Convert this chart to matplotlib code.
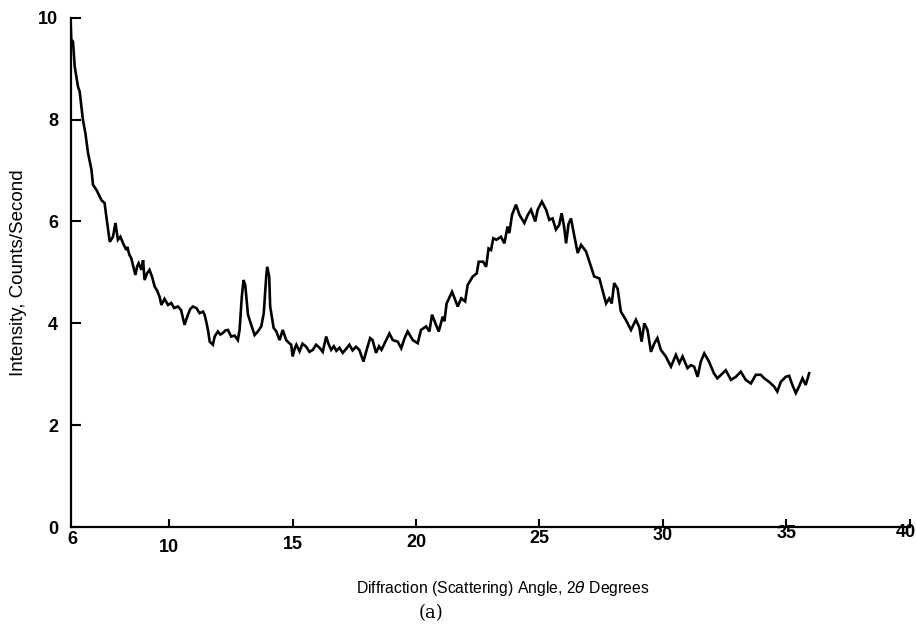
import matplotlib
matplotlib.use('Agg')
import matplotlib.pyplot as plt
from matplotlib.transforms import offset_copy

# diffraction trace (2theta in degrees, counts/second)
angle = [6.0, 6.03, 6.1, 6.17, 6.3, 6.37, 6.5, 6.6, 6.71, 6.85, 6.91, 7.05, 7.25, 7.38, 7.45,
         7.59, 7.72, 7.82, 7.92, 8.02, 8.13, 8.26, 8.3, 8.38, 8.46, 8.55, 8.63, 8.7, 8.76, 8.87,
         8.94, 9.0, 9.1, 9.2, 9.3, 9.41, 9.5, 9.61, 9.68, 9.81, 9.95, 10.08, 10.2, 10.35, 10.48,
         10.62, 10.75, 10.85, 10.96, 11.1, 11.23, 11.37, 11.43, 11.5, 11.57, 11.64, 11.77, 11.84,
         11.97, 12.07, 12.17, 12.28, 12.38, 12.51, 12.65, 12.78, 12.85, 12.94, 13.01, 13.08,
         13.19, 13.32, 13.46, 13.59, 13.73, 13.83, 13.93, 13.97, 14.05, 14.09, 14.23, 14.34,
         14.47, 14.6, 14.74, 14.84, 14.94, 15.0, 15.08, 15.15, 15.28, 15.4, 15.55, 15.68, 15.82,
         15.95, 16.09, 16.22, 16.36, 16.45, 16.56, 16.67, 16.77, 16.9, 17.03, 17.17, 17.3, 17.43,
         17.57, 17.7, 17.87, 18.0, 18.14, 18.24, 18.38, 18.5, 18.6, 18.79, 18.92, 19.06, 19.26,
         19.4, 19.53, 19.66, 19.87, 20.07, 20.2, 20.41, 20.54, 20.65, 20.81, 20.92, 21.08, 21.15,
         21.24, 21.46, 21.69, 21.83, 21.99, 22.09, 22.3, 22.46, 22.54, 22.72, 22.84, 22.94, 23.04,
         23.13, 23.26, 23.44, 23.58, 23.71, 23.78, 23.89, 24.05, 24.19, 24.39, 24.53, 24.66,
         24.83, 24.93, 25.1, 25.27, 25.4, 25.53, 25.67, 25.8, 25.9, 26.0, 26.08, 26.18, 26.28,
         26.4, 26.55, 26.69, 26.89, 27.09, 27.22, 27.43, 27.63, 27.7, 27.83, 27.93, 28.03, 28.17,
         28.3, 28.5, 28.71, 28.91, 29.05, 29.14, 29.25, 29.38, 29.52, 29.65, 29.78, 29.92, 30.12,
         30.33, 30.53, 30.67, 30.8, 31.0, 31.14, 31.27, 31.41, 31.54, 31.68, 31.87, 32.07, 32.21,
         32.34, 32.55, 32.76, 32.96, 33.16, 33.36, 33.57, 33.77, 33.97, 34.11, 34.31, 34.51,
         34.64, 34.78, 34.98, 35.12, 35.25, 35.39, 35.52, 35.66, 35.79, 35.93]
counts = [9.96, 9.57, 9.53, 9.04, 8.65, 8.55, 8.0, 7.74, 7.34, 7.01, 6.72, 6.62, 6.42, 6.36, 6.1,
          5.6, 5.7, 5.97, 5.64, 5.7, 5.57, 5.44, 5.5, 5.35, 5.28, 5.1, 4.95, 5.12, 5.18, 5.05,
          5.24, 4.85, 4.98, 5.05, 4.92, 4.72, 4.65, 4.52, 4.36, 4.48, 4.36, 4.4, 4.3, 4.33, 4.26,
          3.97, 4.16, 4.28, 4.33, 4.3, 4.2, 4.23, 4.17, 4.03, 3.87, 3.64, 3.58, 3.74,
          3.84, 3.78, 3.81, 3.86, 3.87, 3.74, 3.76, 3.67, 3.87, 4.52, 4.85, 4.75,
          4.17, 3.97, 3.77, 3.84, 3.94, 4.2, 4.92, 5.11, 4.92, 4.33, 3.91, 3.84,
          3.67, 3.87, 3.67, 3.62, 3.58, 3.35, 3.5, 3.58, 3.45, 3.6, 3.54, 3.44, 3.48,
          3.58, 3.52, 3.44, 3.74, 3.6, 3.48, 3.55, 3.46, 3.52, 3.42, 3.5, 3.58, 3.47,
          3.54, 3.48, 3.25, 3.48, 3.71, 3.67, 3.42, 3.55, 3.48, 3.67, 3.8, 3.67, 3.64,
          3.51, 3.7, 3.84, 3.67, 3.61, 3.87, 3.94, 3.84, 4.17, 3.97, 3.84, 4.13, 4.04,
          4.39, 4.62, 4.33, 4.49, 4.43, 4.75, 4.92, 4.98, 5.21, 5.21, 5.11, 5.47, 5.44,
          5.67, 5.64, 5.7, 5.57, 5.9, 5.77, 6.13, 6.33, 6.13, 5.97, 6.13, 6.23,
          6.0, 6.23, 6.39, 6.23, 6.03, 6.06, 5.84, 5.93, 6.16, 5.9, 5.57, 5.95, 6.06,
          5.75, 5.38, 5.54, 5.41, 5.11, 4.92, 4.88, 4.52, 4.39, 4.49, 4.39, 4.79, 4.68,
          4.23, 4.07, 3.87, 4.07, 3.92, 3.64, 4.0, 3.87, 3.44, 3.6, 3.71, 3.48, 3.35,
          3.15, 3.38, 3.22, 3.35, 3.12, 3.18, 3.15, 2.95, 3.25, 3.41, 3.25, 3.02, 2.92,
          2.98, 3.08, 2.89, 2.95, 3.05, 2.89, 2.82, 2.99, 2.99, 2.92, 2.85, 2.76,
          2.66, 2.85, 2.95, 2.97, 2.79, 2.63, 2.76, 2.92, 2.79, 3.02]

x_ticks = [6, 10, 15, 20, 25, 30, 35, 40]
x_tick_drop = [0.025, 0.041, 0.035, 0.031, 0.022, 0.016, 0.012, 0.010]  # skewed scan
x_tick_shift = [2, 0, 0, 0, 0, 0, 0, -4]
y_ticks = [0, 2, 4, 6, 8, 10]

plt.rcParams['font.family'] = ['Liberation Sans', 'DejaVu Sans']

fig = plt.figure(figsize=(9.16, 6.32), dpi=100)
ax = fig.add_axes([0.077, 0.166, 0.916, 0.806])

ax.plot(angle, counts, color='black', linewidth=1.9, solid_joinstyle='miter')

ax.set_xlim(6, 40)
ax.set_ylim(0, 10)
ax.spines['top'].set_visible(False)
ax.spines['right'].set_visible(False)
ax.spines['left'].set_linewidth(1.6)
ax.spines['bottom'].set_linewidth(1.6)

ax.set_yticks(y_ticks)
ax.set_yticklabels([str(v) for v in y_ticks], fontsize=13, fontweight='bold')
ax.tick_params(axis='y', direction='in', length=7, width=1.5, pad=9)

ax.set_xticks(x_ticks[1:])
ax.set_xticklabels([])
ax.tick_params(axis='x', direction='in', length=6, width=1.5)
for xv, dv, sv in zip(x_ticks, x_tick_drop, x_tick_shift):
    tr = offset_copy(ax.get_xaxis_transform(), fig=fig, x=sv, y=0, units='dots')
    ax.text(xv, -dv, str(xv), transform=tr, ha='center', va='center',
            fontsize=13, fontweight='bold')

ax.text(0.515, -0.12, r'Diffraction (Scattering) Angle, 2$\theta$ Degrees',
        transform=ax.transAxes, ha='center', va='center', fontsize=11.3)
fig.text(0.471, 0.03, '(a)', ha='center', va='center', fontsize=13, family='DejaVu Serif')
ax.set_ylabel('Intensity, Counts/Second', fontsize=13.5, labelpad=8)

fig.savefig('out.png', dpi=100)
